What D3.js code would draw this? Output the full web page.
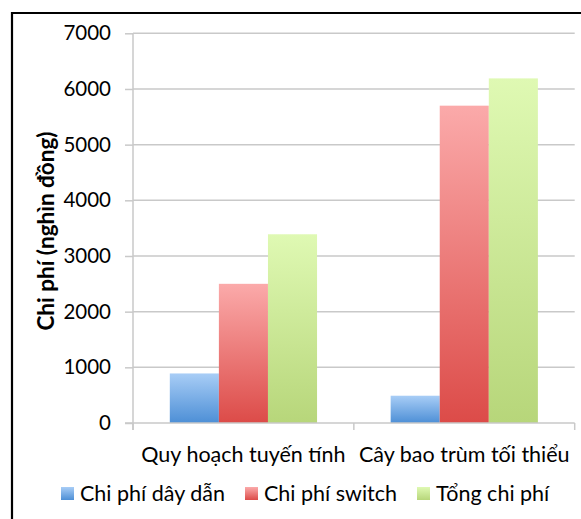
<!DOCTYPE html>
<html><head><meta charset="utf-8">
<script src="https://cdn.jsdelivr.net/npm/d3@7"></script>
<style>
html,body{margin:0;padding:0;background:#fff;}
svg{display:block;font-family:Lato,"Open Sans",sans-serif;}
</style></head>
<body>
<svg id="chart" width="581" height="519"></svg>
<script>
const categories = ["Quy hoạch tuyến tính", "Cây bao trùm tối thiểu"];
const seriesNames = ["Chi phí dây dẫn", "Chi phí switch", "Tổng chi phí"];
const wireCost = [890, 490];
const switchCost = [2500, 5700];
const totalCost = [3390, 6190];
const yTicks = [0, 1000, 2000, 3000, 4000, 5000, 6000, 7000];
const yTitle = "Chi phí (nghìn đồng)";

const seriesValues = [wireCost, switchCost, totalCost];
const colors = [
  {top:"#a8cdf6", bottom:"#4d8fd6"},
  {top:"#fbaaaa", bottom:"#dc4b48"},
  {top:"#dff9b3", bottom:"#b7d67a"}
];

const svg = d3.select("#chart");
const defs = svg.append("defs");
colors.forEach((c,i)=>{
  const g = defs.append("linearGradient").attr("id","g"+i).attr("x1",0).attr("y1",0).attr("x2",0).attr("y2",1);
  g.append("stop").attr("offset","0%").attr("stop-color",c.top);
  g.append("stop").attr("offset","100%").attr("stop-color",c.bottom);
});

// frame
svg.append("path").attr("d","M12,600 L12,13 L600,13").attr("fill","none").attr("stroke","#000").attr("stroke-width",2.2);

const x0 = d3.scaleBand().domain(categories).range([133, 574.7]).paddingInner(0).paddingOuter(0);
const x1 = d3.scaleBand().domain(seriesNames).range([0, x0.bandwidth()]).paddingInner(0).paddingOuter(0.75);
const y = d3.scaleLinear().domain([0, 7000]).range([423, 33.3]);

// gridlines
svg.append("g").selectAll("line").data(yTicks.filter(d=>d>0)).join("line")
  .attr("x1",133).attr("x2",574.7).attr("y1",d=>y(d)).attr("y2",d=>y(d))
  .attr("stroke","#c9c9c9").attr("stroke-width",1.5);

// y axis
const yAxis = d3.axisLeft(y).tickValues(yTicks).tickSize(8).tickPadding(14).tickFormat(d3.format("d"));
const gy = svg.append("g").attr("transform","translate(133,0)").call(yAxis);
gy.select(".domain").attr("stroke","#c9c9c9").attr("stroke-width",1.5).attr("d","M0,"+y(7000)+"V430");
gy.selectAll(".tick line").attr("stroke","#c9c9c9").attr("stroke-width",1.5);
gy.selectAll(".tick text").attr("fill","#000").attr("font-size",20.5).attr("font-family","Lato,'Open Sans',sans-serif");

// bars
const groups = svg.append("g").selectAll("g").data(categories).join("g")
  .attr("transform",d=>`translate(${x0(d)},0)`);
groups.selectAll("rect").data((d,ci)=>seriesNames.map((s,si)=>({s,si,v:seriesValues[si][ci]}))).join("rect")
  .attr("x",d=>x1(d.s)).attr("width",x1.bandwidth())
  .attr("y",d=>y(d.v)).attr("height",d=>y(0)-y(d.v))
  .attr("fill",d=>`url(#g${d.si})`);

// x axis
const xAxis = d3.axisBottom(x0).tickSize(0).tickPadding(24);
const gx = svg.append("g").attr("transform","translate(0,423)").call(xAxis);
gx.select(".domain").attr("stroke","#c9c9c9").attr("stroke-width",1.5).attr("d","M125,0H574.7");
gx.selectAll(".tick text").attr("fill","#000").attr("font-size",21.5).attr("font-family","Lato,'Open Sans',sans-serif");
// category boundary ticks
const bounds = [x0.range()[0]].concat(categories.map(c=>x0(c)+x0.bandwidth()));
gx.append("g").selectAll("line").data(bounds).join("line")
  .attr("x1",d=>d).attr("x2",d=>d).attr("y1",0).attr("y2",7)
  .attr("stroke","#c9c9c9").attr("stroke-width",1.5);

// y title
svg.append("text").attr("transform","translate(54,231) rotate(-90)")
  .attr("text-anchor","middle").attr("font-size",22.5).attr("font-weight","bold").text(yTitle);

// legend
const legendX = [61, 245, 417];
const lg = svg.append("g").selectAll("g").data(seriesNames).join("g")
  .attr("transform",(d,i)=>`translate(${legendX[i]},487)`);
lg.append("rect").attr("width",13).attr("height",13).attr("fill",(d,i)=>`url(#g${i})`);
lg.append("text").attr("x",19).attr("y",14).attr("font-size",21.5).text(d=>d);
</script>
</body></html>
